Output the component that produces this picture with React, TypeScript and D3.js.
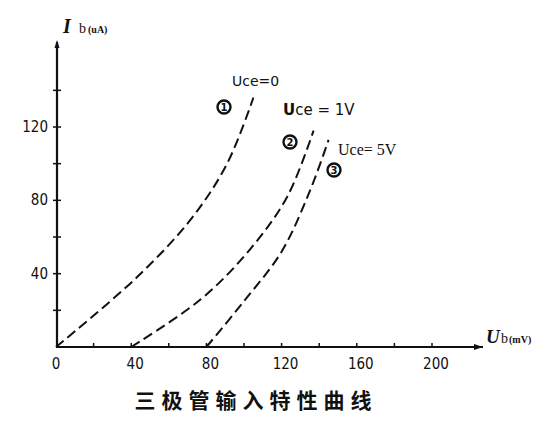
import React from "react";
import * as d3 from "d3";

const xTicks = [0, 40, 80, 120, 160, 200];
const xMinor = [20, 60, 100, 140, 180];
const yTicks = [40, 80, 120];
const yMinor = [20, 60, 100, 140];

const curve1Ub = [0, 43, 72, 91, 105];
const curve1Ib = [0, 38, 70, 100, 136];
const curve2Ub = [40, 77, 103, 123, 137];
const curve2Ib = [0, 26, 53, 82, 118];
const curve3Ub = [80, 100, 120, 135, 145];
const curve3Ib = [0, 25, 52, 85, 113];

const curves = [
  { ub: curve1Ub, ib: curve1Ib },
  { ub: curve2Ub, ib: curve2Ib },
  { ub: curve3Ub, ib: curve3Ib },
];

const markers = ["1", "2", "3"];

export default function App() {
  const x = d3.scaleLinear().domain([0, 200]).range([56, 432]);
  const y = d3.scaleLinear().domain([0, 120]).range([347, 127]);
  const line = d3
    .line<[number, number]>()
    .x((d) => x(d[0]))
    .y((d) => y(d[1]))
    .curve(d3.curveCatmullRom.alpha(0.5));

  const tickFont = "'DejaVu Sans Condensed', 'DejaVu Sans', sans-serif";
  const serif = "'Liberation Serif', 'DejaVu Serif', serif";
  const markerPos = [
    [224, 107],
    [290, 142],
    [334, 170],
  ];

  return (
    <svg
      width={560}
      height={426}
      style={{ position: "absolute", left: 0, top: 0, background: "#fff" }}
    >
      <rect x={0} y={0} width={560} height={426} fill="#fff" />
      {/* axes */}
      <line x1={x(0)} y1={y(0)} x2={483} y2={y(0)} stroke="#111" strokeWidth={2} />
      <path d={`M483,${y(0)} l-9,-3 l0,6 z`} fill="#111" />
      <line x1={x(0) + 1} y1={y(0)} x2={x(0) + 1} y2={42} stroke="#111" strokeWidth={2.2} />
      <path d={`M${x(0) + 1},40 l-2.5,8 l5,0 z`} fill="#111" />

      {xTicks.concat(xMinor).filter((t) => t > 0).map((t) => (
        <line key={"xt" + t} x1={x(t)} x2={x(t)} y1={y(0)} y2={y(0) - 4} stroke="#111" strokeWidth={1.5} />
      ))}
      {yTicks.concat(yMinor).map((t) => (
        <line key={"yt" + t} x1={x(0) - 3} x2={x(0) + 5} y1={y(t)} y2={y(t)} stroke="#111" strokeWidth={1.5} />
      ))}

      {xTicks.map((t) => (
        <text
          key={"xl" + t}
          x={x(t) + (t === 0 ? 0 : 4)}
          y={369}
          textAnchor="middle"
          fontFamily={tickFont}
          fontSize={15}
          fill="#111"
        >
          {t}
        </text>
      ))}
      {yTicks.map((t) => (
        <text
          key={"yl" + t}
          x={48}
          y={y(t) + 5}
          textAnchor="end"
          fontFamily={tickFont}
          fontSize={15}
          fill="#111"
        >
          {t}
        </text>
      ))}

      {curves.map((c, i) => (
        <path
          key={"c" + i}
          d={line(c.ub.map((u, k) => [u, c.ib[k]] as [number, number])) || ""}
          fill="none"
          stroke="#111"
          strokeWidth={2}
          strokeDasharray="10,5"
        />
      ))}

      {/* axis titles */}
      <text x={63} y={33} fontFamily={serif} fontStyle="italic" fontWeight="bold" fontSize={20} fill="#111">
        I
      </text>
      <text x={79} y={33} fontFamily={serif} fontSize={14} fill="#111">
        b
      </text>
      <text x={88} y={33} fontFamily={serif} fontWeight="bold" fontSize={10} fill="#111">
        (uA)
      </text>
      <text x={486} y={343} fontFamily={serif} fontStyle="italic" fontWeight="bold" fontSize={19} fill="#111">
        U
      </text>
      <text x={501} y={343} fontFamily={serif} fontSize={14} fill="#111">
        b
      </text>
      <text x={509} y={343} fontFamily={serif} fontWeight="bold" fontSize={10} fill="#111">
        (mV)
      </text>

      {/* annotations */}
      <text x={232} y={86} fontFamily="'DejaVu Sans', sans-serif" fontSize={14} fill="#111">
        Uce=0
      </text>
      <text x={283} y={115} fontFamily="'DejaVu Sans', sans-serif" fontSize={15} fill="#111">
        <tspan fontWeight="bold">U</tspan>ce = 1V
      </text>
      <text x={338} y={155} fontFamily={serif} fontSize={16} fill="#111">
        Uce= 5V
      </text>
      {markers.map((m, i) => (
        <g key={"m" + i}>
          <circle cx={markerPos[i][0]} cy={markerPos[i][1]} r={6.5} fill="#fff" stroke="#111" strokeWidth={2.4} />
          <text
            x={markerPos[i][0]}
            y={markerPos[i][1] + 4}
            textAnchor="middle"
            fontFamily="'DejaVu Sans', sans-serif"
            fontWeight="bold"
            fontSize={10}
            fill="#111"
          >
            {m}
          </text>
        </g>
      ))}

      <text
        x={256}
        y={408}
        textAnchor="middle"
        fontFamily="'Noto Sans CJK SC', sans-serif"
        fontWeight="bold"
        fontSize={21}
        letterSpacing={6}
        fill="#111"
      >
        三极管输入特性曲线
      </text>
    </svg>
  );
}
